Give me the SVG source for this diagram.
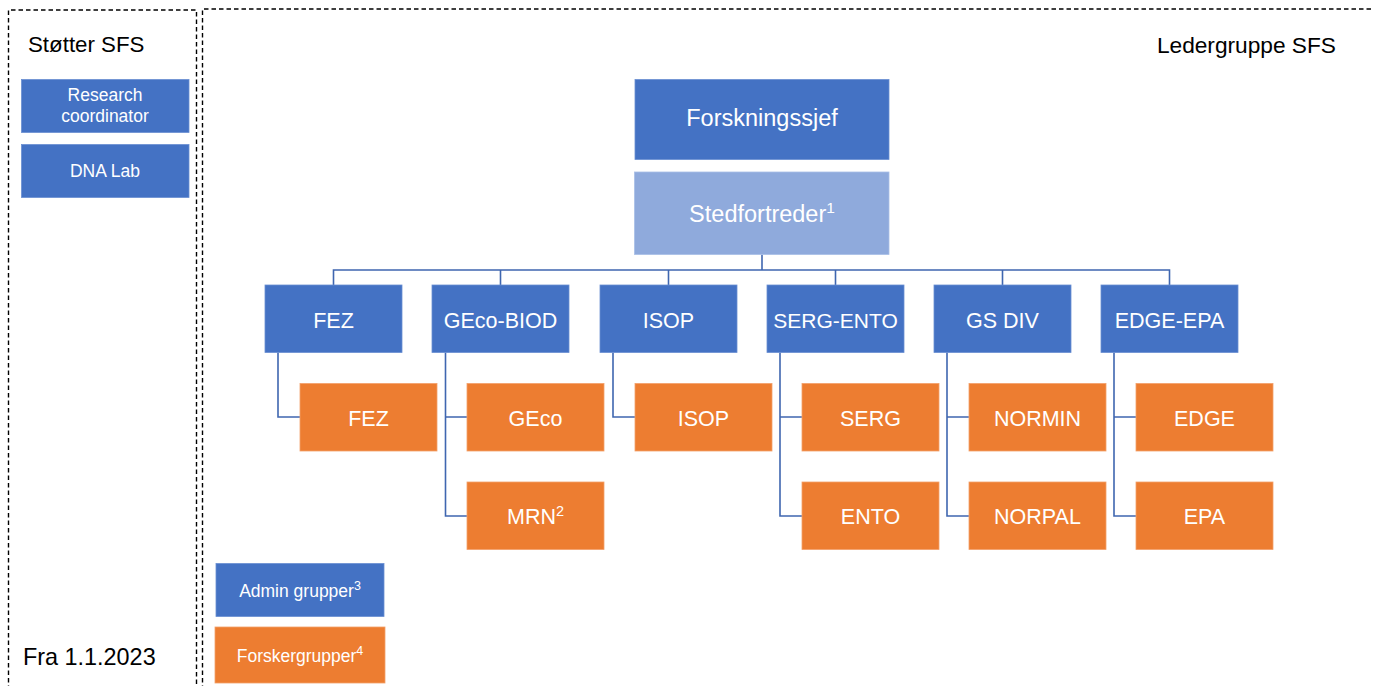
<svg xmlns="http://www.w3.org/2000/svg" width="1373" height="686" viewBox="0 0 1373 686">
<style>
text{font-family:"Liberation Sans",Arial,sans-serif}
.b{fill:#4472C4;stroke:#6A8FD3;stroke-width:0.8}
.lb{fill:#8FAADC;stroke:#A9BFE6;stroke-width:0.8}
.o{fill:#ED7D31;stroke:#F3A06A;stroke-width:0.8}
.t{fill:#fff;text-anchor:middle}
.k{fill:#000}
.dash{fill:none;stroke:#000;stroke-width:1.4;stroke-dasharray:4.5 3}
.c{fill:none;stroke:#3F66B0;stroke-width:1.6}
</style>
<rect width="1373" height="686" fill="#fff"/>
<g id="frames">
<path class="dash" d="M8.5,690 V10 H196.5 V690"/>
<path class="dash" d="M202.5,690 V9 H1380"/>
</g>
<g id="labels">
<text class="k" x="28" y="52" font-size="22.3">Støtter SFS</text>
<text class="k" x="1336" y="53" font-size="22.7" text-anchor="end">Ledergruppe SFS</text>
<text class="k" x="23" y="665" font-size="23.4">Fra 1.1.2023</text>
</g>
<g id="connectors">
<path class="c" d="M762,254.5 V270"/>
<path class="c" d="M333.5,285 V270 H1169.5 V285"/>
<path class="c" d="M500.5,270 V285 M668.5,270 V285 M835.5,270 V285 M1002.5,270 V285"/>
<path class="c" d="M278,352.5 V417 H300"/>
<path class="c" d="M445.5,352.5 V516 H467 M445.5,417 H467"/>
<path class="c" d="M613,352.5 V417 H635"/>
<path class="c" d="M780,352.5 V516 H802 M780,417 H802"/>
<path class="c" d="M947,352.5 V516 H969 M947,417 H969"/>
<path class="c" d="M1114,352.5 V516 H1136 M1114,417 H1136"/>
</g>
<g id="research-coordinator"><rect class="b" x="21.5" y="79.5" width="167.5" height="53"/><text class="t" x="105" y="101" font-size="17.5">Research</text><text class="t" x="105" y="122" font-size="17.5">coordinator</text></g>
<g id="dna-lab"><rect class="b" x="21.5" y="144.5" width="167.5" height="53"/><text class="t" x="105" y="177" font-size="17.5">DNA Lab</text></g>
<g id="forskningssjef"><rect class="b" x="635" y="79.5" width="254" height="80"/><text class="t" x="762" y="126" font-size="23.5">Forskningssjef</text></g>
<g id="stedfortreder"><rect class="lb" x="634.5" y="172" width="254.5" height="82.5"/><text class="t" x="762" y="222" font-size="23.5">Stedfortreder<tspan font-size="15.5" dy="-9">1</tspan></text></g>
<g id="fez-admin"><rect class="b" x="265" y="285" width="137" height="67.5"/><text class="t" x="333.5" y="328" font-size="21.5">FEZ</text></g>
<g id="geco-biod"><rect class="b" x="432" y="285" width="137" height="67.5"/><text class="t" x="500.5" y="328" font-size="21.5">GEco-BIOD</text></g>
<g id="isop-admin"><rect class="b" x="600" y="285" width="137" height="67.5"/><text class="t" x="668.5" y="328" font-size="21.5">ISOP</text></g>
<g id="serg-ento"><rect class="b" x="767" y="285" width="137" height="67.5"/><text class="t" x="835.5" y="328" font-size="21">SERG-ENTO</text></g>
<g id="gs-div"><rect class="b" x="934" y="285" width="137" height="67.5"/><text class="t" x="1002.5" y="328" font-size="21.5">GS DIV</text></g>
<g id="edge-epa"><rect class="b" x="1101" y="285" width="137" height="67.5"/><text class="t" x="1169.5" y="328" font-size="21.5">EDGE-EPA</text></g>
<g id="fez"><rect class="o" x="300" y="383.5" width="137" height="67.5"/><text class="t" x="368.5" y="426" font-size="21.5">FEZ</text></g>
<g id="geco"><rect class="o" x="467" y="383.5" width="137" height="67.5"/><text class="t" x="535.5" y="426" font-size="21.5">GEco</text></g>
<g id="mrn"><rect class="o" x="467" y="482" width="137" height="67.5"/><text class="t" x="535.5" y="524" font-size="21.5">MRN<tspan font-size="14.5" dy="-8">2</tspan></text></g>
<g id="isop"><rect class="o" x="635" y="383.5" width="137" height="67.5"/><text class="t" x="703.5" y="426" font-size="21.5">ISOP</text></g>
<g id="serg"><rect class="o" x="802" y="383.5" width="137" height="67.5"/><text class="t" x="870.5" y="426" font-size="21.5">SERG</text></g>
<g id="ento"><rect class="o" x="802" y="482" width="137" height="67.5"/><text class="t" x="870.5" y="524" font-size="21.5">ENTO</text></g>
<g id="normin"><rect class="o" x="969" y="383.5" width="137" height="67.5"/><text class="t" x="1037.5" y="426" font-size="21.5">NORMIN</text></g>
<g id="norpal"><rect class="o" x="969" y="482" width="137" height="67.5"/><text class="t" x="1037.5" y="524" font-size="21.5">NORPAL</text></g>
<g id="edge"><rect class="o" x="1136" y="383.5" width="137" height="67.5"/><text class="t" x="1204.5" y="426" font-size="21.5">EDGE</text></g>
<g id="epa"><rect class="o" x="1136" y="482" width="137" height="67.5"/><text class="t" x="1204.5" y="524" font-size="21.5">EPA</text></g>
<g id="legend-admin"><rect class="b" x="216" y="563.5" width="168" height="53"/><text class="t" x="300" y="597" font-size="17.5">Admin grupper<tspan font-size="12.5" dy="-7">3</tspan></text></g>
<g id="legend-forsker"><rect class="o" x="215" y="627" width="170" height="56"/><text class="t" x="300" y="662" font-size="17.5">Forskergrupper<tspan font-size="12.5" dy="-7">4</tspan></text></g>
</svg>
